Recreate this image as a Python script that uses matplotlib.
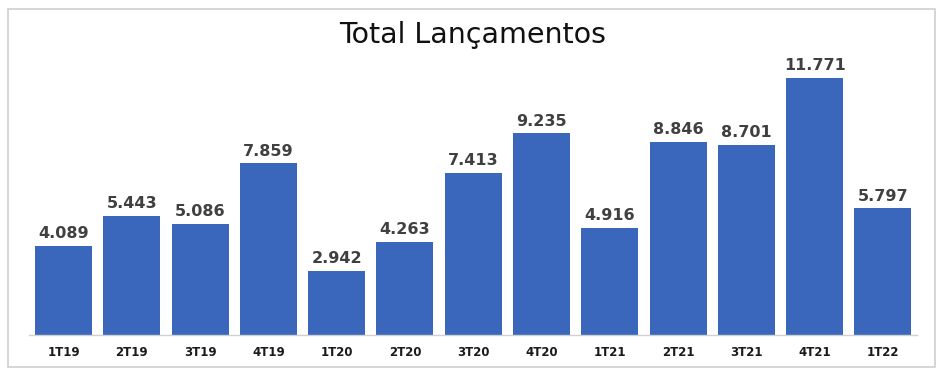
import matplotlib
matplotlib.use("Agg")
import matplotlib.pyplot as plt
from matplotlib.patches import Rectangle

categories = ["1T19", "2T19", "3T19", "4T19", "1T20", "2T20", "3T20", "4T20",
              "1T21", "2T21", "3T21", "4T21", "1T22"]
values = [4.089, 5.443, 5.086, 7.859, 2.942, 4.263, 7.413, 9.235,
          4.916, 8.846, 8.701, 11.771, 5.797]
labels = ["4.089", "5.443", "5.086", "7.859", "2.942", "4.263", "7.413", "9.235",
          "4.916", "8.846", "8.701", "11.771", "5.797"]
title = "Total Lançamentos"

plt.rcParams['font.family'] = ['DejaVu Sans']

fig = plt.figure(figsize=(9.45, 3.74), dpi=100)
fig.patch.set_facecolor("white")
fig.add_artist(Rectangle((8/945, 1 - 367/374), (935-8)/945, (367-9)/374,
                         transform=fig.transFigure, fill=False,
                         edgecolor="#d0d0d0", linewidth=1.2))

ax = fig.add_axes([29.4/945, (374-335)/374, (917-29.4)/945, (335-50)/374])
x = range(len(categories))
ax.bar(x, values, width=0.835, color="#3A66BC")
for xi, v, lab in zip(x, values, labels):
    ax.text(xi, v + 0.22, lab, ha="center", va="bottom", fontsize=11.5,
            color="#404040", fontweight="semibold")
ax.set_xlim(-0.5, len(categories) - 0.5)
ax.set_ylim(0, 285/21.83)
ax.set_xticks(list(x))
ax.set_xticklabels(categories, fontsize=8.5, fontweight="bold", color="#1a1a1a")
ax.tick_params(axis="x", length=0, pad=8)
ax.set_yticks([])
for s in ["top", "right", "left"]:
    ax.spines[s].set_visible(False)
ax.spines["bottom"].set_color("#d0d0d0")
ax.spines["bottom"].set_linewidth(1)
fig.text(0.5, 1 - 35/374, title, ha="center", va="center", fontsize=20.5,
         color="#111111", fontweight="medium")

fig.savefig("out.png", dpi=100, facecolor="white")
